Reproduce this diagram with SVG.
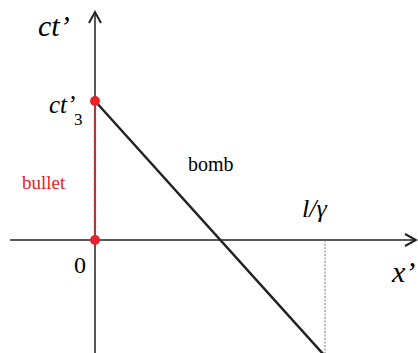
<svg xmlns="http://www.w3.org/2000/svg" width="418" height="353" viewBox="0 0 418 353" font-family="Times New Roman">
<defs>
<marker id="arr" markerWidth="16" markerHeight="16" refX="12" refY="6" orient="auto" markerUnits="userSpaceOnUse" viewBox="0 0 16 12">
<path d="M1,0 L12,6 L1,12" fill="none" stroke="#222" stroke-width="2"/>
</marker>
</defs>
<g id="connectors" fill="none">
<line stroke="#222" stroke-width="1.5" x1="95" y1="353" x2="95" y2="12" marker-end="url(#arr)"/>
<line stroke="#222" stroke-width="1.5" x1="10" y1="240" x2="416" y2="240" marker-end="url(#arr)"/>
<line x1="95" y1="101" x2="95" y2="240" stroke="#e8202a" stroke-width="2.2" stroke-dasharray="2,1.2"/>
<line x1="95" y1="101" x2="324" y2="355" stroke="#222" stroke-width="2.5"/>
<line x1="325" y1="240" x2="325" y2="353" stroke="#777" stroke-width="1" stroke-dasharray="2,1.5"/>
</g>
<g id="point-ct3"><circle fill="#e8202a" cx="95" cy="101" r="5"/></g>
<g id="point-origin"><circle fill="#e8202a" cx="95" cy="240" r="5"/></g>
<text x="38" y="36" font-family="Times New Roman" font-size="30" font-style="italic">ct’</text>
<text x="49" y="113" font-family="Times New Roman" font-size="25" font-style="italic">ct’</text>
<text x="74" y="125" font-family="Times New Roman" font-size="17">3</text>
<text x="22" y="189" fill="#e8202a" font-family="Times New Roman" font-size="19">bullet</text>
<text x="74" y="273" font-family="Times New Roman" font-size="24">0</text>
<text x="188" y="171" font-family="Times New Roman" font-size="20">bomb</text>
<text x="302" y="217" font-family="Times New Roman" font-size="26" font-style="italic">l/γ</text>
<text x="392" y="282" font-family="Times New Roman" font-size="30" font-style="italic">x’</text>
</svg>
